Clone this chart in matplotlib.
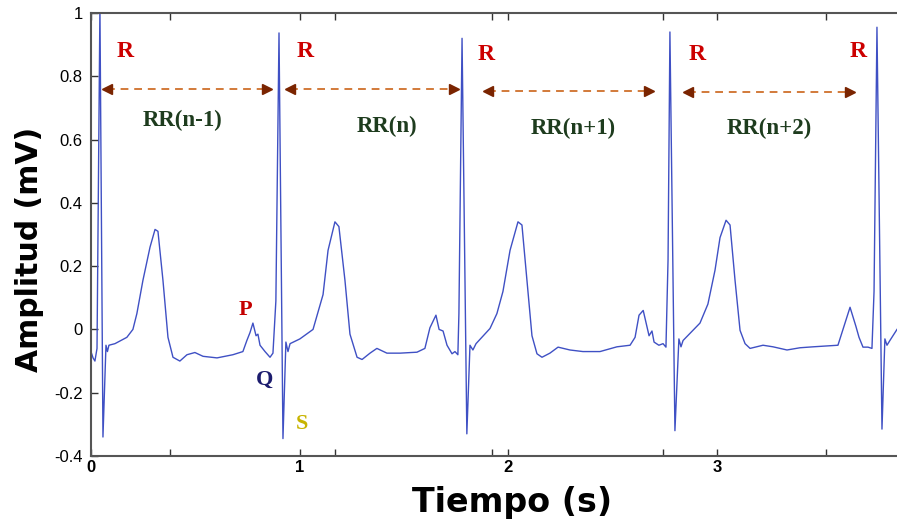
import numpy as np
import matplotlib
matplotlib.use("Agg")
import matplotlib.pyplot as plt
from matplotlib.ticker import FixedLocator

# ECG trace (time in s, amplitude in mV)
t = [0.000, 0.010, 0.019, 0.029, 0.043, 0.0575, 0.072, 0.079, 0.086, 0.115,
     0.172, 0.201, 0.220, 0.249, 0.283, 0.307, 0.321, 0.345, 0.369, 0.393,
     0.426, 0.460, 0.498, 0.537, 0.604, 0.680, 0.728, 0.747, 0.762, 0.776,
     0.791, 0.800, 0.810, 0.834, 0.858, 0.872, 0.886, 0.901, 0.920, 0.934,
     0.944, 0.954, 1.001, 1.064, 1.112, 1.136, 1.169, 1.188, 1.217, 1.241,
     1.275, 1.299, 1.337, 1.370, 1.418, 1.481, 1.562, 1.600, 1.624, 1.653,
     1.668, 1.687, 1.706, 1.730, 1.744, 1.758, 1.763, 1.778, 1.801, 1.816,
     1.830, 1.845, 1.912, 1.945, 1.974, 2.008, 2.046, 2.065, 2.089, 2.113,
     2.137, 2.161, 2.199, 2.238, 2.295, 2.357, 2.439, 2.520, 2.583, 2.607,
     2.626, 2.646, 2.660, 2.674, 2.688, 2.698, 2.721, 2.741, 2.755, 2.765,
     2.774, 2.798, 2.817, 2.827, 2.837, 2.918, 2.956, 2.990, 3.014, 3.043,
     3.062, 3.086, 3.110, 3.134, 3.158, 3.220, 3.268, 3.335, 3.397, 3.460,
     3.579, 3.603, 3.637, 3.651, 3.665, 3.680, 3.699, 3.723, 3.742, 3.752,
     3.766, 3.790, 3.804, 3.814, 3.828, 3.862]
mv = [-0.070, -0.090, -0.100, -0.060, 1.020, -0.340, -0.050, -0.070, -0.050, -0.045,
      -0.025, 0.000, 0.050, 0.155, 0.260, 0.316, 0.310, 0.155, -0.025, -0.088,
      -0.100, -0.080, -0.073, -0.085, -0.090, -0.080, -0.070, -0.035, -0.010, 0.020,
      -0.020, -0.015, -0.050, -0.070, -0.088, -0.075, 0.090, 0.937, -0.345, -0.040,
      -0.070, -0.045, -0.030, 0.000, 0.110, 0.250, 0.340, 0.325, 0.155, -0.015,
      -0.088, -0.095, -0.075, -0.060, -0.075, -0.075, -0.072, -0.060, 0.005, 0.045,
      0.000, -0.005, -0.050, -0.077, -0.070, -0.080, 0.050, 0.920, -0.330, -0.050,
      -0.065, -0.045, 0.003, 0.050, 0.120, 0.250, 0.340, 0.330, 0.155, -0.020,
      -0.077, -0.088, -0.075, -0.056, -0.065, -0.070, -0.070, -0.055, -0.050, -0.025,
      0.045, 0.060, 0.020, -0.020, -0.005, -0.040, -0.050, -0.045, -0.056, 0.220,
      0.940, -0.320, -0.030, -0.055, -0.035, 0.020, 0.080, 0.187, 0.290, 0.345,
      0.330, 0.155, -0.003, -0.045, -0.060, -0.050, -0.055, -0.065, -0.058, -0.055,
      -0.050, 0.000, 0.070, 0.040, 0.010, -0.025, -0.056, -0.056, -0.060, 0.120,
      0.955, -0.315, -0.030, -0.050, -0.035, 0.000]

# R peak labels
r_x = [0.163, 1.025, 1.893, 2.905, 3.675]
r_y = [0.877, 0.877, 0.870, 0.870, 0.877]

# RR interval arrows (start, end, level) and their labels
rr_start = [0.077, 0.954, 1.902, 2.861]
rr_end = [0.843, 1.739, 2.674, 3.637]
rr_level = [0.760, 0.760, 0.753, 0.750]
rr_names = ["RR(n-1)", "RR(n)", "RR(n+1)", "RR(n+2)"]
rr_text_x = [0.440, 1.420, 2.310, 3.250]
rr_text_y = [0.660, 0.640, 0.636, 0.636]

# P, Q, S wave labels
pqs_names = ["P", "Q", "S"]
pqs_x = [0.738, 0.834, 1.010]
pqs_y = [0.060, -0.160, -0.300]
pqs_colors = ["#c40000", "#1c1c6e", "#c8b400"]

ytick_vals = [-0.4, -0.2, 0, 0.2, 0.4, 0.6, 0.8, 1]
ytick_text = ["-0.4", "-0.2", "0", "0.2", "0.4", "0.6", "0.8", "1"]
xtick_vals = [0, 1, 2, 3]
xtick_minor = [0.38, 1.17, 1.92, 2.74, 3.52]

fig = plt.figure(figsize=(8.97, 5.24), dpi=100)
ax = fig.add_axes([0.1014, 0.1298, 0.8986, 0.8454])

ax.plot(t, mv, color="#3f50c4", lw=1.0)

serif = "Liberation Serif"
for x, y in zip(r_x, r_y):
    ax.text(x, y, "R", color="#cc0000", fontsize=17, fontweight="bold",
            family=serif, ha="center", va="center")

for a, b, lev, name, tx, ty in zip(rr_start, rr_end, rr_level, rr_names,
                                    rr_text_x, rr_text_y):
    ax.plot([a, b], [lev, lev], ls=(0, (4, 3)), color="#d27a3a", lw=1.4)
    ax.plot([a], [lev], marker="<", ms=7, color="#7a2400", ls="none")
    ax.plot([b], [lev], marker=">", ms=7, color="#7a2400", ls="none")
    ax.text(tx, ty, name, color="#1e3c1e", fontsize=16.5, fontweight="bold",
            family=serif, ha="center", va="center")

for name, x, y, c in zip(pqs_names, pqs_x, pqs_y, pqs_colors):
    ax.text(x, y, name, color=c, fontsize=16, fontweight="bold",
            family=serif, ha="center", va="center")

ax.set_xlim(0, 3.862)
ax.set_ylim(-0.4, 1.0)
ax.set_yticks(ytick_vals)
ax.set_yticklabels(ytick_text, family="Liberation Sans", fontsize=12)
ax.set_xticks(xtick_vals)
ax.set_xticklabels([str(v) for v in xtick_vals], family="Liberation Sans",
                   fontsize=12, fontweight="bold")
ax.xaxis.set_minor_locator(FixedLocator(xtick_minor))
ax.tick_params(axis="both", which="both", direction="in", length=5,
               color="#333333", top=True, width=1)
ax.tick_params(axis="y", pad=6)
ax.tick_params(axis="x", pad=3)

for s in ["left", "bottom", "top"]:
    ax.spines[s].set_color("#555555")
    ax.spines[s].set_linewidth(1.5)
ax.spines["right"].set_visible(False)

ax.set_xlabel("Tiempo (s)", fontsize=24, fontweight="bold", family="DejaVu Sans")
ax.set_ylabel("Amplitud (mV)", fontsize=21.5, fontweight="bold", family="DejaVu Sans")
ax.xaxis.set_label_coords(0.522, -0.068)
ax.yaxis.set_label_coords(-0.058, 0.467)

fig.savefig("out.png", dpi=100)
